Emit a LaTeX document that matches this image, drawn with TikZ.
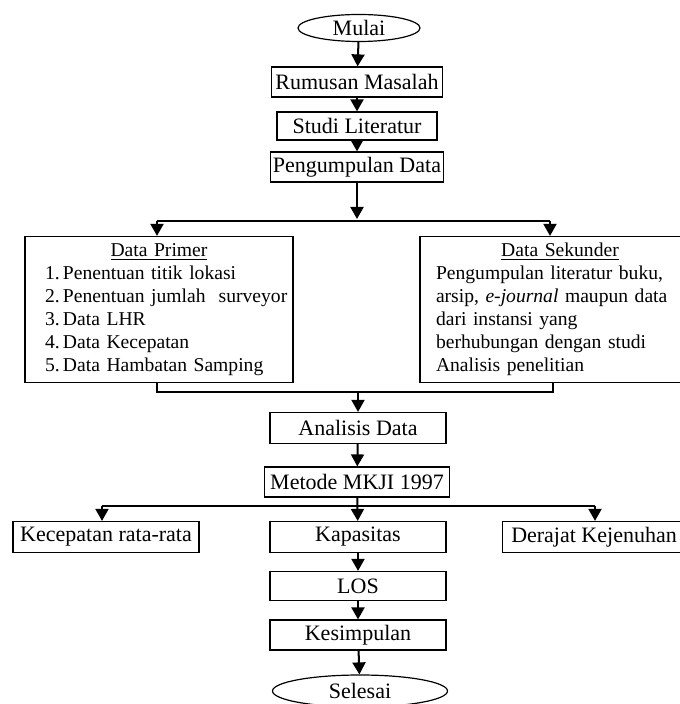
\documentclass[tikz,border=0pt]{standalone}
\usepackage{fontspec}
\setmainfont{Liberation Serif}
\usetikzlibrary{arrows.meta,shapes.geometric}
\tikzset{
    kotak/.style={draw,line width=0.6pt,minimum height=15pt,inner sep=0pt,align=center},
    isi/.style={kotak,minimum height=73pt,align=left,font=\fontsize{9.8}{11.5}\selectfont},
    lonjong/.style={draw,ellipse,line width=0.6pt,inner sep=0pt},
    panah/.style={line width=1pt,-{Triangle[length=6pt,width=6.5pt]}},
    garis/.style={line width=1pt}
}
\newcommand{\butir}[2]{\makebox[\linewidth][l]{\hspace*{8pt}\makebox[9pt][l]{#1.}#2}}
\begin{document}
\begin{tikzpicture}[x=0.5pt,y=-0.5pt,font=\fontsize{11}{13}\selectfont]
\useasboundingbox (0,0) rectangle (679,704);
\node[lonjong,minimum width=61pt,minimum height=13.5pt] (mulai) at (359,28) {Mulai};
\node[kotak,minimum width=85.5pt] (rumusan) at (357,82) {Rumusan Masalah};
\node[kotak,minimum width=80pt,minimum height=14pt] (studi) at (357,126) {Studi Literatur};
\node[kotak,minimum width=86.5pt] (kumpul) at (357,167) {Pengumpulan Data};
\node[isi,text width=130pt,inner xsep=2pt] (primer) at (159,309.5)
    {\makebox[\linewidth]{\underline{Data Primer}}\\
     \butir{1}{Penentuan titik lokasi}\\
     \butir{2}{Penentuan jumlah\ \ surveyor}\\
     \butir{3}{Data LHR}\\
     \butir{4}{Data Kecepatan}\\
     \butir{5}{Data Hambatan Samping}};
\node[isi,text width=124pt,inner xsep=8pt] (sekunder) at (560,309.5)
    {\makebox[\linewidth]{\underline{Data Sekunder}}\\
     Pengumpulan literatur buku,\\
     arsip, \textit{e-journal} maupun data\\
     dari instansi yang\\
     berhubungan dengan studi\\
     Analisis penelitian};
\node[kotak,minimum width=88pt,minimum height=15.5pt] (analisis) at (358,428) {Analisis Data};
\node[kotak,minimum width=92.5pt] (metode) at (357,482) {Metode MKJI 1997};
\node[kotak,minimum width=93pt,minimum height=15.5pt] (kecepatan) at (106,537) {Kecepatan rata-rata};
\node[kotak,minimum width=88pt,minimum height=15.5pt] (kapasitas) at (358,537) {Kapasitas};
\node[kotak,minimum width=91.5pt,minimum height=15.5pt] (derajat) at (594,537) {Derajat Kejenuhan};
\node[kotak,minimum width=88pt,minimum height=14.5pt] (los) at (358,586) {LOS};
\node[kotak,minimum width=88pt] (simpul) at (358,635) {Kesimpulan};
\node[lonjong,minimum width=87.5pt,minimum height=16pt] (selesai) at (360,691) {Selesai};
\coordinate (bagiL) at (157,221);
\coordinate (bagiR) at (550,221);
\coordinate (gabungL) at (157,392);
\coordinate (gabungR) at (553,392);
\coordinate (cabangL) at (102,506);
\coordinate (cabangR) at (595,506);
\draw[panah] (mulai) -- (rumusan);
\draw[panah] (rumusan) -- (studi);
\draw[panah] (studi) -- (kumpul);
\draw[panah,shorten >=1pt] (kumpul) -- (kumpul |- bagiL);
\draw[garis] (bagiL) -- (bagiR);
\draw[panah] (bagiL) -- (bagiL |- primer.north);
\draw[panah] (bagiR) -- (bagiR |- sekunder.north);
\draw[garis] (primer.south -| gabungL) -- (gabungL) -- (gabungR) -- (sekunder.south -| gabungR);
\draw[panah] (analisis |- gabungL) -- (analisis);
\draw[panah] (analisis) -- (metode);
\draw[panah] (metode) -- (kapasitas);
\draw[garis] (cabangL) -- (cabangR);
\draw[panah] (cabangL) -- (cabangL |- kecepatan.north);
\draw[panah] (cabangR) -- (cabangR |- derajat.north);
\draw[panah] (kapasitas) -- (los);
\draw[panah] (los) -- (simpul);
\draw[panah] (simpul) -- (selesai);
\end{tikzpicture}
\end{document}
